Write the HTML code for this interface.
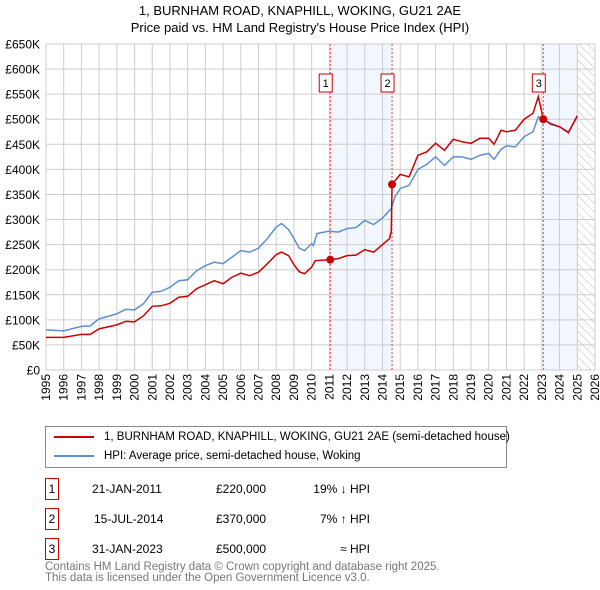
<!DOCTYPE html>
<html><head><meta charset="utf-8"><style>
body{margin:0;background:#fff;font-family:"Liberation Sans","DejaVu Sans",sans-serif;}
.t{position:absolute;font-size:12px;color:#000;}
</style></head><body>
<div style="position:relative;width:600px;height:590px;overflow:hidden">
<div style="position:absolute;top:2px;width:600px;text-align:center;font-size:13px;line-height:17px">1, BURNHAM ROAD, KNAPHILL, WOKING, GU21 2AE<br>Price paid vs. HM Land Registry's House Price Index (HPI)</div>
<svg id="c" width="600" height="420" style="position:absolute;left:0;top:0" font-family="Liberation Sans, DejaVu Sans, sans-serif"></svg>
<div style="position:absolute;left:45px;top:426px;width:460px;height:40px;border:1px solid #888;font-size:11.5px">
<div style="position:absolute;left:8px;top:4px;white-space:nowrap"><span style="display:inline-block;width:40px;height:2px;background:#cc0000;vertical-align:middle;margin-right:10px"></span>1, BURNHAM ROAD, KNAPHILL, WOKING, GU21 2AE (semi-detached house)</div>
<div style="position:absolute;left:8px;top:23px;white-space:nowrap"><span style="display:inline-block;width:40px;height:2px;background:#5b8fd0;vertical-align:middle;margin-right:10px"></span>HPI: Average price, semi-detached house, Woking</div>
</div>
<div>
<div class="t" style="left:45px;top:478px;width:12px;height:20px;border:1px solid #cc0000;text-align:center;line-height:20px">1</div>
<div class="t" style="left:92px;top:482px">21-JAN-2011</div><div class="t" style="left:216px;top:482px">£220,000</div><div class="t" style="left:300px;top:482px;width:70px;text-align:right">19% ↓ HPI</div>
<div class="t" style="left:45px;top:508px;width:12px;height:20px;border:1px solid #cc0000;text-align:center;line-height:20px">2</div>
<div class="t" style="left:94px;top:512px">15-JUL-2014</div><div class="t" style="left:216px;top:512px">£370,000</div><div class="t" style="left:300px;top:512px;width:70px;text-align:right">7% ↑ HPI</div>
<div class="t" style="left:45px;top:538px;width:12px;height:20px;border:1px solid #cc0000;text-align:center;line-height:20px">3</div>
<div class="t" style="left:92px;top:542px">31-JAN-2023</div><div class="t" style="left:216px;top:542px">£500,000</div><div class="t" style="left:300px;top:542px;width:70px;text-align:right">≈ HPI</div>
</div>
<div style="position:absolute;left:45px;top:562px;font-size:11.5px;color:#777;line-height:11px">Contains HM Land Registry data © Crown copyright and database right 2025.<br>This data is licensed under the Open Government Licence v3.0.</div>
</div>
<script>
const hpiX=[1995,1996,1997,1997.5,1998,1999,1999.5,2000,2000.5,2001,2001.5,2002,2002.5,2003,2003.5,2004,2004.5,2005,2005.5,2006,2006.5,2007,2007.5,2008,2008.3,2008.7,2009,2009.3,2009.6,2010,2010.1,2010.3,2011,2011.5,2012,2012.5,2013,2013.5,2014,2014.5,2014.7,2015,2015.5,2016,2016.5,2017,2017.5,2018,2018.5,2019,2019.5,2020,2020.3,2020.7,2021,2021.5,2022,2022.5,2022.8,2023,2023.5,2024,2024.5,2025];
const hpiY=[80,78,87,88,102,112,121,120,132,155,157,165,178,180,198,208,215,212,225,238,235,243,262,285,292,280,262,243,238,252,248,272,277,275,282,284,298,290,303,322,345,362,368,400,410,425,408,425,425,420,428,432,420,440,447,445,465,475,505,500,492,485,475,505];
const ppX=[1995,1996,1997,1997.5,1998,1999,1999.5,2000,2000.5,2001,2001.5,2002,2002.5,2003,2003.5,2004,2004.5,2005,2005.5,2006,2006.5,2007,2007.5,2008,2008.3,2008.7,2009,2009.3,2009.6,2010,2010.2,2011.05,2011.5,2012,2012.5,2013,2013.5,2014,2014.4,2014.5,2014.54,2015,2015.5,2016,2016.5,2017,2017.5,2018,2018.5,2019,2019.5,2020,2020.3,2020.7,2021,2021.5,2022,2022.5,2022.8,2023.08,2023.5,2024,2024.5,2025];
const ppY=[65,65,71,71,82,90,97,96,108,127,128,133,145,147,162,170,178,172,185,193,188,195,212,230,235,228,210,196,192,205,218,220,222,228,229,240,235,250,262,278,370,390,385,428,435,452,438,460,455,452,462,462,450,478,475,478,500,512,545,500,490,485,473,507];
const saleX=[2011.05,2014.54,2023.08];
const saleY=[220,370,500];
const saleLabels=["1","2","3"];
const yTicks=[0,50,100,150,200,250,300,350,400,450,500,550,600,650];
const xTicks=[1995,1996,1997,1998,1999,2000,2001,2002,2003,2004,2005,2006,2007,2008,2009,2010,2011,2012,2013,2014,2015,2016,2017,2018,2019,2020,2021,2022,2023,2024,2025,2026];
const X=v=>46+(v-1995)*(595-46)/31, Y=v=>370-v*(326/650);
const s=document.getElementById('c'),NS='http://www.w3.org/2000/svg';
function mk(t,a,p){const e=document.createElementNS(NS,t);for(const k in a)e.setAttribute(k,a[k]);(p||s).appendChild(e);return e;}
let e;
e=mk('rect',{x:X(2011.05),y:44,width:X(2014.54)-X(2011.05),height:326,fill:'#f2f6fd'});

e=mk('rect',{x:X(2023.08),y:44,width:X(2025)-X(2023.08),height:326,fill:'#f2f6fd'});

const defs=mk('defs',{});const pat=mk('pattern',{id:'h',width:6,height:6,patternUnits:'userSpaceOnUse',patternTransform:'rotate(-45)'},defs);
mk('line',{x1:0,y1:0,x2:0,y2:6,stroke:'#bbb','stroke-width':1},pat);
e=mk('rect',{x:X(2025),y:44,width:595-X(2025),height:326,fill:'url(#h)'});

yTicks.forEach(v=>{e=mk('line',{x1:46,x2:595,y1:Y(v),y2:Y(v),stroke:'#ccc'});

e=mk('text',{x:40,y:Y(v)+4.5,'text-anchor':'end','font-size':12});e.textContent=v?'£'+v+'K':'£0';
});
xTicks.forEach(v=>{e=mk('line',{x1:X(v),x2:X(v),y1:44,y2:370,stroke:'#ccc'});

e=mk('text',{transform:`translate(${X(v)+4},374) rotate(-90)`,'text-anchor':'end','font-size':12});e.textContent=v;
});
saleX.forEach((v,i)=>{e=mk('line',{x1:X(v),x2:X(v),y1:44,y2:370,stroke:'#dd4444','stroke-dasharray':'2,2'});
});
e=mk('polyline',{points:hpiX.map((v,i)=>X(v)+','+Y(hpiY[i])).join(' '),fill:'none',stroke:'#5b8fd0','stroke-width':1.5});

e=mk('polyline',{points:ppX.map((v,i)=>X(v)+','+Y(ppY[i])).join(' '),fill:'none',stroke:'#cc0000','stroke-width':1.5});

saleX.forEach((v,i)=>{e=mk('circle',{cx:X(v),cy:Y(saleY[i]),r:4,fill:'#cc0000'});

e=mk('rect',{x:X(v)-11,y:74,width:13,height:18,fill:'#fff',stroke:'#cc0000'});

e=mk('text',{x:X(v)-4.5,y:87,'text-anchor':'middle','font-size':11});e.textContent=saleLabels[i];
});
</script>
</body></html>
